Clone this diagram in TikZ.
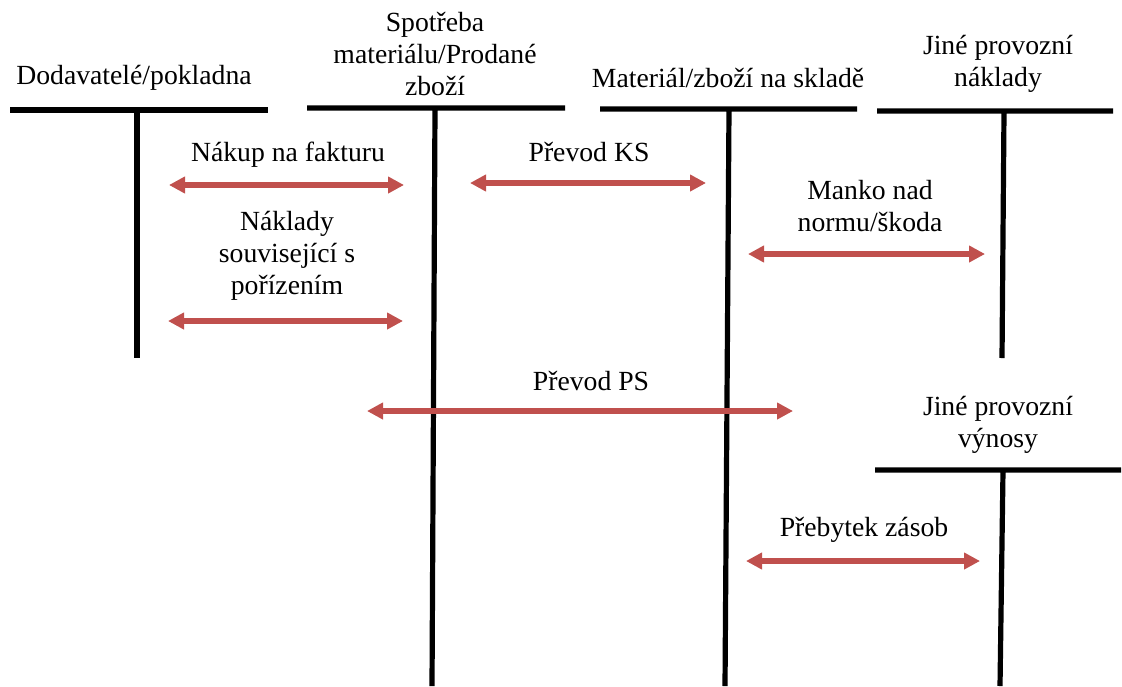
\documentclass[tikz,border=0pt]{standalone}
\usepackage{fontspec}
\setmainfont{Liberation Serif}
\usetikzlibrary{positioning,arrows.meta}
\definecolor{bookred}{HTML}{C0504D}
\tikzset{acc line/.style={line width=2.6pt},
  book arrow/.style={draw=bookred, line width=2.9pt,
    {Triangle[length=8pt,width=8pt]}-{Triangle[length=8pt,width=8pt]}},
  txt node/.style={align=center, inner sep=0pt, font=\fontsize{13.85}{16}\selectfont},}

\begin{document}
\begin{tikzpicture}[x=0.5pt, y=-0.5pt]
        \useasboundingbox (0,0) rectangle (1122,686);
        % Accounts
        \draw[acc line] (10,110) -- (268,110) (137,110) -- (137,358);
        \draw[acc line] (307,108) -- (565,108) (435,108) -- (432,686);
        \draw[acc line] (600,109) -- (857,109) (729,109) -- (725,686);
        \draw[acc line] (877,111) -- (1113,111) (1004,111) -- (1002,358);
        \draw[acc line] (875,470) -- (1121,470) (1003,470) -- (1000,686);
        % Titles
        \node[txt node] (dod) at (134,78) {Dodavatelé/pokladna};
        \node[txt node] (spo) at (435,54) {Spotřeba\\materiálu/Prodané\\zboží};
        \node[txt node] (mat) at (728,78) {Materiál/zboží na skladě};
        \node[txt node] (jpn) at (998,64) {Jiné provozní\\náklady};
        \node[txt node] (jpv) at (998,425) {Jiné provozní\\výnosy};
        % Booking ends
        \coordinate (nak1) at (169,185);
        \coordinate (nak2) at (404,185);
        \coordinate (nas1) at (168,321);
        \coordinate (nas2) at (403,321);
        \coordinate (ks1) at (470,183);
        \coordinate (ks2) at (706,183);
        \coordinate (man1) at (748,254);
        \coordinate (man2) at (985,254);
        \coordinate (ps1) at (367,411);
        \coordinate (ps2) at (793,411);
        \coordinate (pre1) at (746,561);
        \coordinate (pre2) at (980,561);
        % Bookings
        \draw[book arrow] (nak1) -- (nak2);
        \draw[book arrow] (nas1) -- (nas2);
        \draw[book arrow] (ks1) -- (ks2);
        \draw[book arrow] (man1) -- (man2);
        \draw[book arrow] (ps1) -- (ps2);
        \draw[book arrow] (pre1) -- (pre2);
        % Labels
        \node[txt node] (nakt) at (288,155) {Nákup na fakturu};
        \node[txt node] (nast) at (287,256) {Náklady\\související s\\pořízením};
        \node[txt node] (kst) at (589,152) {Převod KS};
        \node[txt node] (mant) at (870,206) {Manko nad\\normu/škoda};
        \node[txt node] (pst) at (591,381) {Převod PS};
        \node[txt node] (pret) at (864,530) {Přebytek zásob};
\end{tikzpicture}
\end{document}
